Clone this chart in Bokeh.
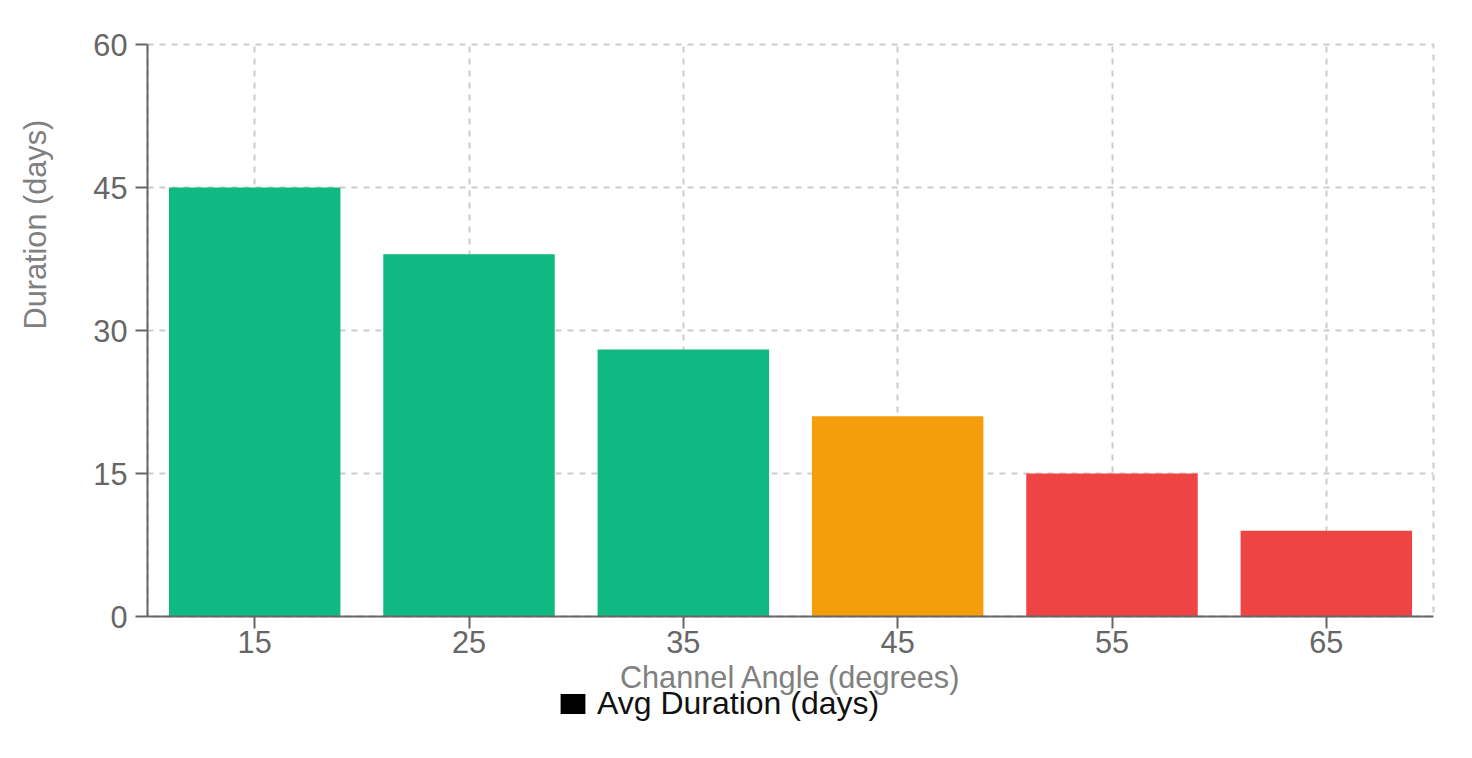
from bokeh.plotting import figure
from bokeh.layouts import column
from bokeh.models import ColumnDataSource, FactorRange, Range1d, Legend, LegendItem, FixedTicker, Title
from bokeh.embed import file_html
from bokeh.resources import INLINE

angles = ["15", "25", "35", "45", "55", "65"]
durations = [45, 38, 28, 21, 15, 9]
bar_colors = ["#10b981", "#10b981", "#10b981", "#f59e0b", "#ef4444", "#ef4444"]
y_ticks = [0, 15, 30, 45, 60]
series_name = "Avg Duration (days)"

FONT = "Liberation Sans"
SHIFT = 25  # layout is pulled left by this many px

src = ColumnDataSource(dict(angle=angles, duration=durations, color=bar_colors))

p = figure(
    width=1464 + SHIFT, height=697,
    x_range=FactorRange(factors=angles, range_padding=0),
    y_range=Range1d(0, 60),
    output_backend="svg", toolbar_location=None,
    min_border_left=147 + SHIFT, min_border_right=31, min_border_top=44, min_border_bottom=80,
)
p.outline_line_color = "#cccccc"
p.outline_line_dash = "6 6"
p.outline_line_width = 2

p.vbar(x="angle", top="duration", width=0.8, fill_color="color", line_color=None, source=src)

for g in (p.xgrid, p.ygrid):
    g.grid_line_color = "#cccccc"
    g.grid_line_dash = "6 6"
    g.grid_line_width = 2

p.yaxis.ticker = FixedTicker(ticks=y_ticks)
for ax in (p.xaxis, p.yaxis):
    ax.axis_line_color = "#666666"
    ax.axis_line_width = 2
    ax.major_tick_line_color = "#666666"
    ax.major_tick_line_width = 2
    ax.major_tick_out = 12
    ax.major_tick_in = 0
    ax.minor_tick_line_color = None
    ax.major_label_text_color = "#666666"
    ax.major_label_text_font = FONT
    ax.major_label_text_font_size = "30.7px"
    ax.axis_label_text_color = "#808080"
    ax.axis_label_text_font = FONT
    ax.axis_label_text_font_size = "30.7px"
    ax.axis_label_text_font_style = "normal"

p.xaxis.axis_label = "Channel Angle (degrees)"
p.xaxis.major_label_standoff = 2
p.xaxis.axis_label_standoff = 4
p.yaxis.major_label_standoff = 8

ytitle = Title(
    text="Duration (days)", align="left", offset=287, standoff=75,
    text_font=FONT, text_font_size="30.7px", text_color="#808080", text_font_style="normal",
)
p.add_layout(ytitle, "left")

# legend strip below the chart
LH = 45
q = figure(
    width=1464 + SHIFT, height=LH,
    x_range=Range1d(0, 1464), y_range=Range1d(0, LH),
    output_backend="svg", toolbar_location=None,
    x_axis_type=None, y_axis_type=None, min_border=0,
    margin=(-12, 0, 0, 0),
)
q.grid.visible = False
q.outline_line_color = None
q.background_fill_alpha = 0
q.border_fill_alpha = 0
swatch = q.vbar(x=[0], top=[0], bottom=[0], width=1, fill_color="black", line_color=None)

legend = Legend(
    items=[LegendItem(label=series_name, renderers=[swatch])],
    orientation="horizontal",
    location=(410, 8),
    glyph_width=31, glyph_height=25,
    label_text_font=FONT, label_text_font_size="32px", label_text_color="#111111",
    label_standoff=9, padding=0, margin=0, spacing=0,
    border_line_color=None, background_fill_alpha=0,
)
q.add_layout(legend, "center")

layout = column(p, q, spacing=0, margin=(0, 0, 0, -SHIFT))
open("out.html", "w").write(file_html(layout, INLINE))
